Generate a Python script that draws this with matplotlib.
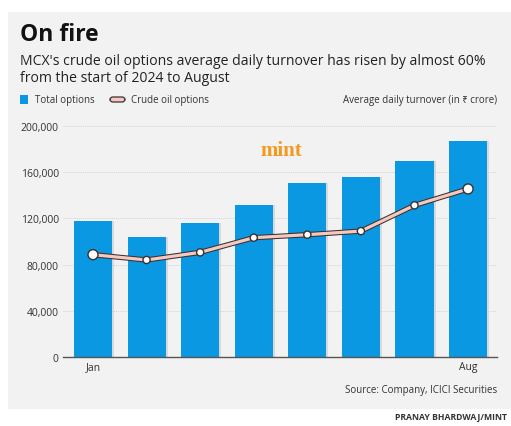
import matplotlib
matplotlib.use("Agg")
import matplotlib.pyplot as plt
from matplotlib.patches import Rectangle, FancyBboxPatch

months = ["Jan", "Feb", "Mar", "Apr", "May", "Jun", "Jul", "Aug"]
tick_labels = ["Jan", "", "", "", "", "", "", "Aug"]
total_options = [118000, 104000, 115700, 131600, 150400, 156000, 169400, 187000]
crude_oil_options = [88600, 84000, 90600, 103300, 105900, 109000, 131300, 145500]
yticks = [0, 40000, 80000, 120000, 160000, 200000]

W, H = 511, 427
fig = plt.figure(figsize=(W / 100, H / 100), dpi=100)
fig.patch.set_facecolor("white")
FONT = ["Open Sans", "Noto Sans", "DejaVu Sans"]

def fx(px):
    return px / W

def fy(py):
    return 1 - py / H

# gray panel
fig.patches.append(Rectangle((fx(8), fy(410)), fx(511) - fx(8), fy(13) - fy(410),
                             transform=fig.transFigure, facecolor="#f2f2f2",
                             edgecolor="none", zorder=-5))

ax = fig.add_axes([fx(63), fy(358), fx(497) - fx(63), fy(127) - fy(358)])
ax.set_zorder(1)
ax.set_facecolor("none")
x = list(range(len(months)))

# subtle shadow
ax.bar([i + 0.04 for i in x], total_options, width=0.71, color="#c9c9c9", alpha=0.6, zorder=2)
ax.bar(x, total_options, width=0.71, color="#0a98e2", zorder=3)

ax.plot(x, crude_oil_options, color="#3b3030", lw=3.8, zorder=4, solid_capstyle="round")
ax.plot(x, crude_oil_options, color="#f3c9c0", lw=2.3, zorder=5, solid_capstyle="round")
sizes = [7.2 if i in (0, len(x) - 1) else 5.2 for i in x]
ax.scatter(x, crude_oil_options, s=[s ** 2 for s in sizes], facecolor="white",
           edgecolor="#3b3030", linewidth=1.0, zorder=6)

ax.set_xlim(-0.56, 7.54)
ax.set_ylim(0, 200000)
ax.set_yticks(yticks)
ax.set_yticklabels([f"{v:,}" for v in yticks], family=FONT, fontsize=7.5, color="#333333")
ax.set_xticks(x)
ax.set_xticklabels(tick_labels, family=FONT, fontsize=7.5, color="#333333")
ax.tick_params(axis="both", length=0, pad=3)
for s in ["top", "right", "left"]:
    ax.spines[s].set_visible(False)
ax.spines["bottom"].set_color("#555555")
ax.spines["bottom"].set_linewidth(1.0)
ax.spines["bottom"].set_zorder(7)
for v in yticks[1:]:
    ax.axhline(v, color="#d4d4d4", lw=0.7, ls=(0, (1, 1)), zorder=1)

# mint logo
ax.text(3.51, 179000, "mint", family=["Liberation Serif", "DejaVu Serif"], fontweight="bold",
        fontsize=15, color="#f39a1e", ha="center", va="center", zorder=8)

# titles
fig.text(fx(20), fy(35), "On fire", family=FONT, fontweight="bold", fontsize=16.5,
         color="#111111", va="center", ha="left")
fig.text(fx(20), fy(62), "MCX's crude oil options average daily turnover has risen by almost 60%",
         family=FONT, fontsize=10.1, color="#222222", va="center", ha="left")
fig.text(fx(20), fy(78), "from the start of 2024 to August",
         family=FONT, fontsize=10.1, color="#222222", va="center", ha="left")

# legend
fig.patches.append(Rectangle((fx(20), fy(105)), fx(8), fy(96) - fy(105),
                             transform=fig.transFigure, facecolor="#0a98e2", edgecolor="none",
                             zorder=2))
fig.text(fx(35), fy(100), "Total options", family=FONT, fontsize=7, color="#333333",
         va="center", ha="left")
fig.patches.append(FancyBboxPatch((fx(110), fy(103)), fx(15), fy(98) - fy(103),
                                  boxstyle="round,pad=0,rounding_size=0.006",
                                  transform=fig.transFigure, facecolor="#f3c9c0",
                                  edgecolor="#3b3030", linewidth=0.9, zorder=2))
fig.text(fx(131), fy(100), "Crude oil options", family=FONT, fontsize=7, color="#333333",
         va="center", ha="left")
fig.text(fx(497), fy(100), "Average daily turnover (in \u20b9 crore)", family=FONT,
         fontsize=7, color="#333333", va="center", ha="right")

fig.text(fx(497), fy(391), "Source: Company, ICICI Securities", family=FONT, fontsize=7,
         color="#333333", va="center", ha="right")
fig.text(fx(507), fy(418), "PRANAY BHARDWAJ/MINT", family=FONT, fontweight="bold",
         fontsize=6.2, color="#333333", va="center", ha="right")

fig.savefig("out.png", dpi=100, facecolor="white")
